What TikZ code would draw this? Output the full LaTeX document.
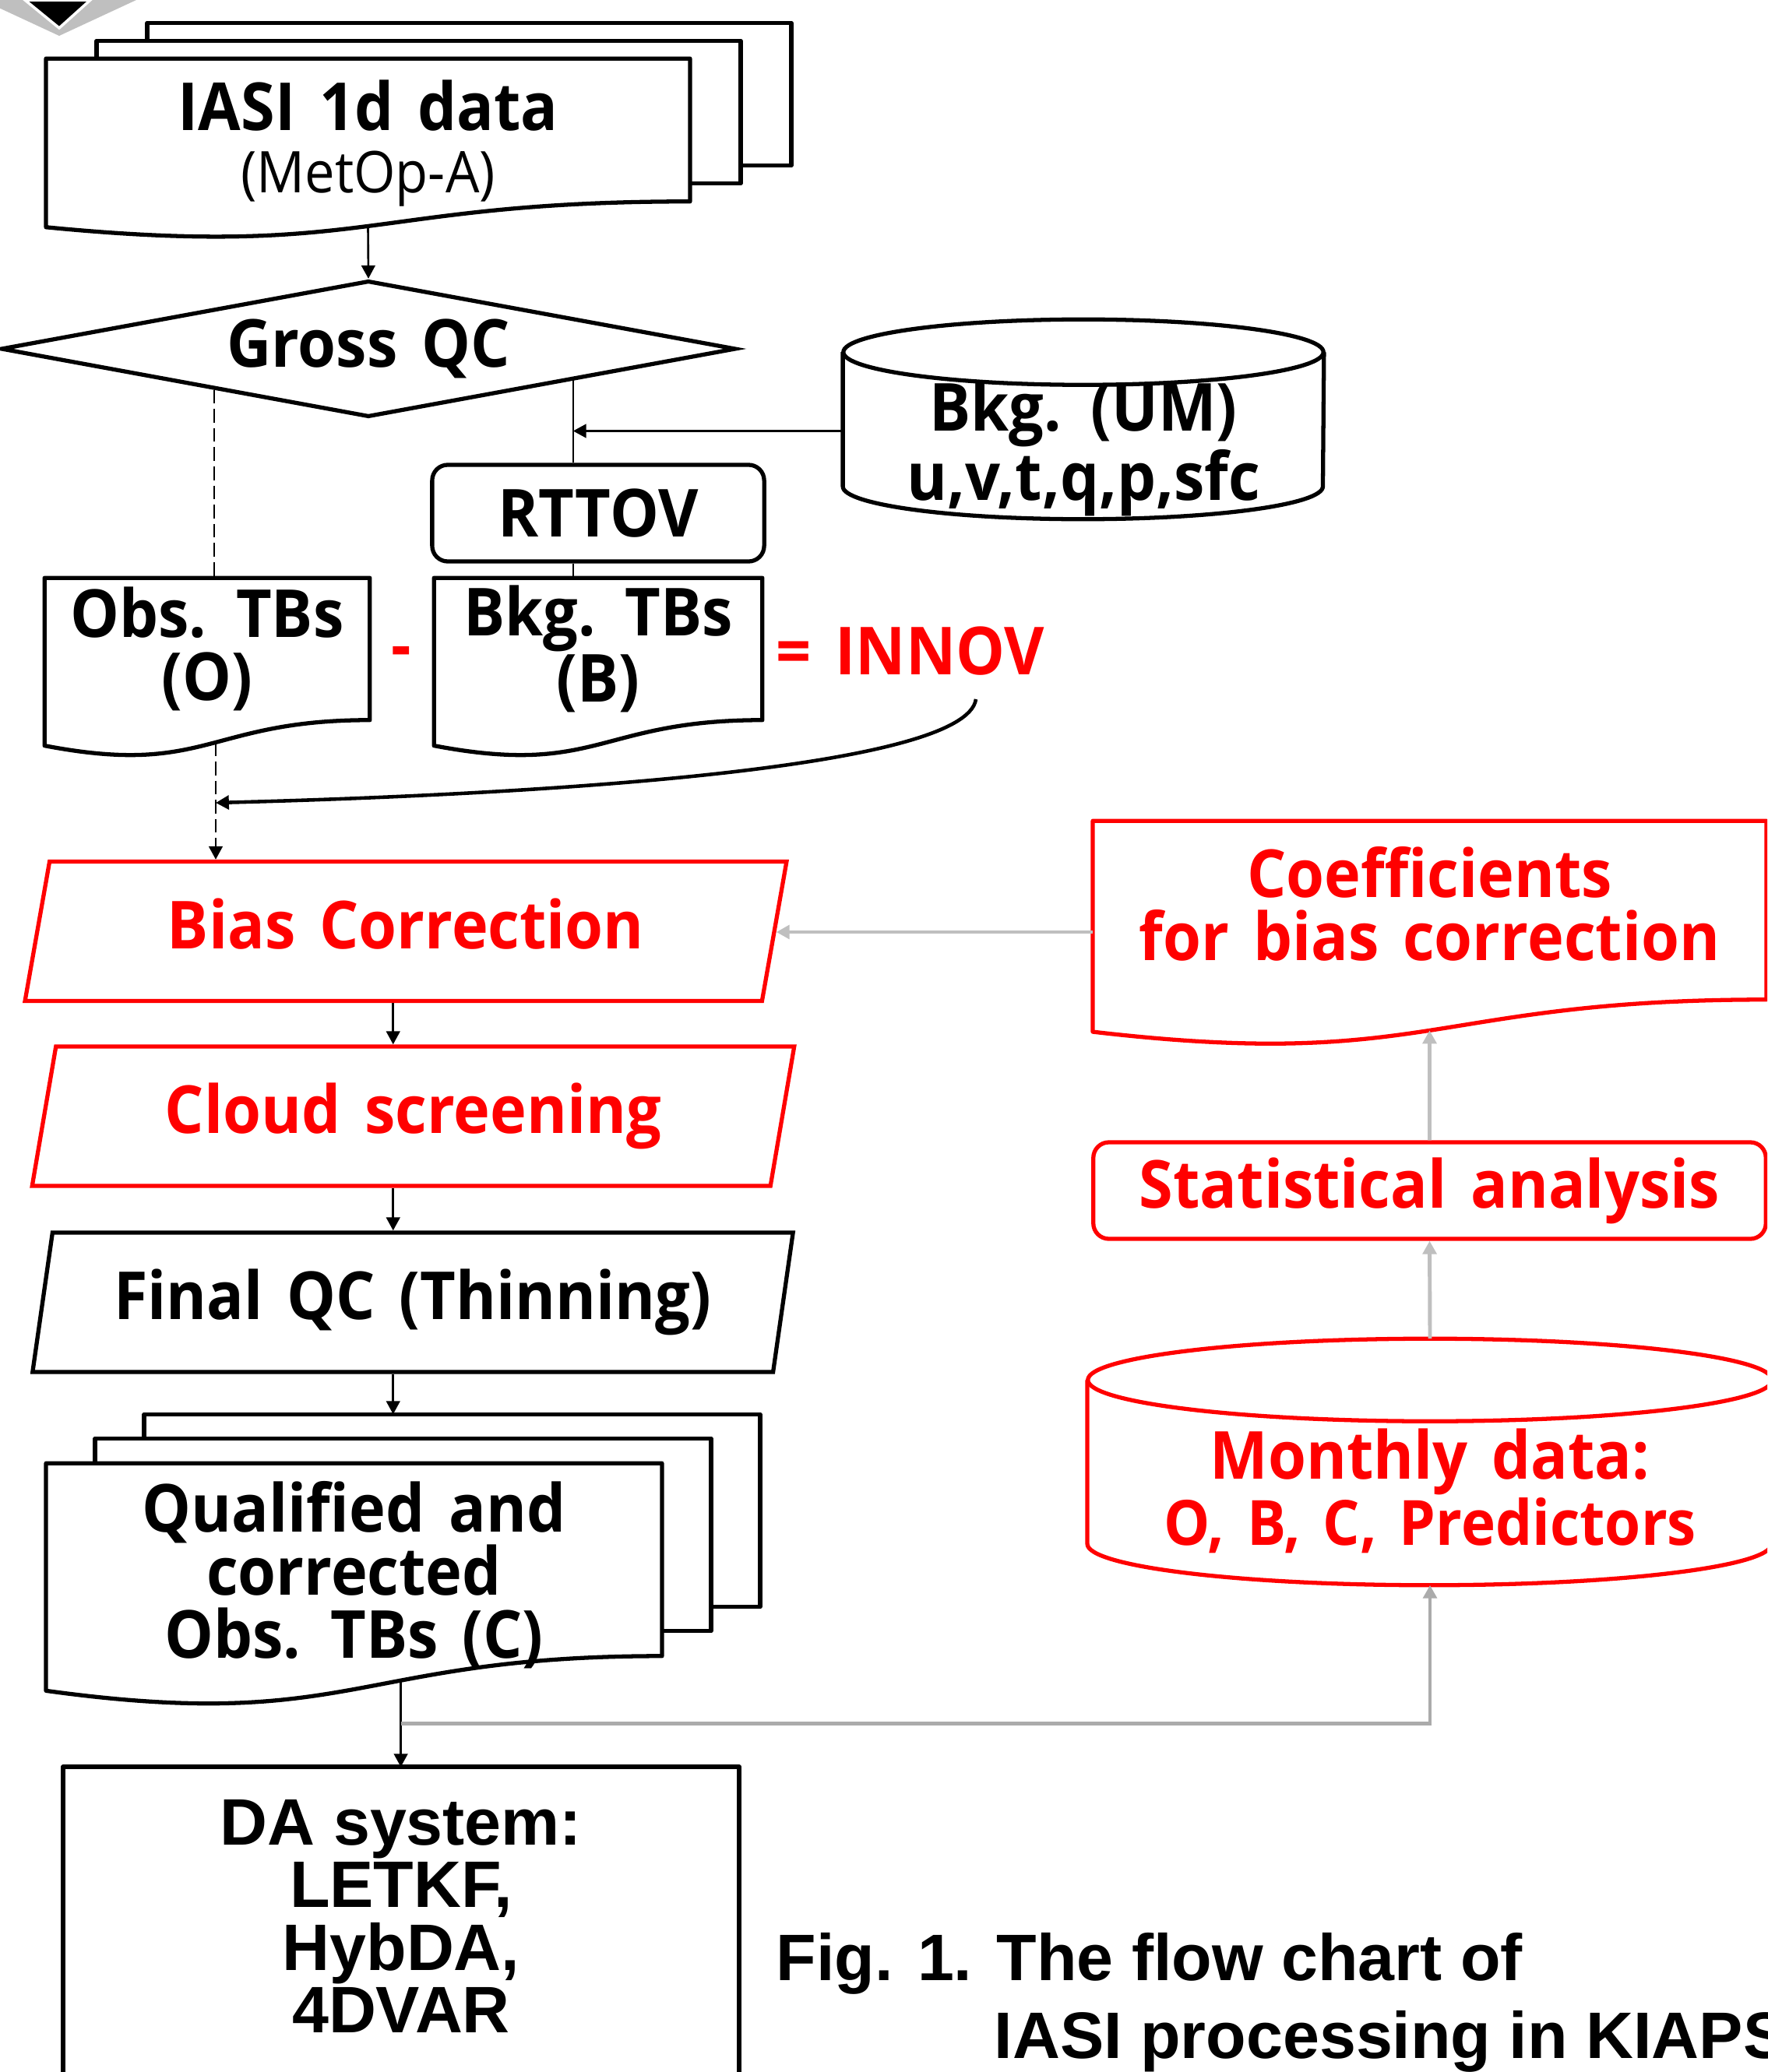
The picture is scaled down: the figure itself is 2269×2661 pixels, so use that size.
\documentclass[tikz,border=0pt]{standalone}
\usepackage{fontspec}
\usepackage{tikz}
\usetikzlibrary{arrows.meta,positioning,calc,shapes.geometric}
\setmainfont{Open Sans}[FakeStretch=0.93,WordSpace=1.5]
\newfontfamily\capfont{Liberation Sans}
\definecolor{Ink}{HTML}{000000}
\definecolor{Alert}{HTML}{FF0000}
\definecolor{Feed}{HTML}{BFBFBF}
\definecolor{FeedDark}{HTML}{ABABAB}
\definecolor{Shade}{HTML}{BFBFBF}
\newcommand{\lblfont}{\bfseries\fontsize{24.2}{23}\selectfont}
\newcommand{\capsize}{\capfont\bfseries\fontsize{24}{22.8}\selectfont}
% one sheet behind a document: node, dx, dy, offset of the sheet in front
\newcommand{\backsheet}[5]{\draw[outline] ($(#1.north west)+(#2,#5)$) -- ($(#1.north west)+(#2,#3)$) -- ($(#1.north east)+(#2,#3)$) -- ($(#1.south east)+(#2,#3)$) -- ($(#1.south east)+(#4,#3)$);}
% document outline with a wavy bottom, (node-out) sits on the wave
\newcommand{\docedge}[3][Ink]{\draw[outline,draw=#1] (#2.north west) -- (#2.north east) -- (#2.south east) .. controls (#2.south) and ($(#2.south)!-0.4!(#2.north)$) .. coordinate[pos=#3] (#2-out) ($(#2.south west)!-0.18!(#2.north west)$) -- cycle;}
% cylinder outline: node, x radius, y radius (cm)
\newcommand{\drumedge}[4][Ink]{%
  \draw[outline,draw=#1] ($(#2.north west)+(0cm,-#4cm)$) -- ($(#2.south west)+(0cm,#4cm)$) arc[start angle=180,end angle=360,x radius=#3cm,y radius=#4cm] -- ($(#2.north east)+(0cm,-#4cm)$);
  \draw[outline,draw=#1] ($(#2.north)+(0cm,-#4cm)$) ellipse[x radius=#3cm,y radius=#4cm];}
\tikzset{
  outline/.style={draw=Ink,line width=1.5pt,line join=round},
  txt/.style={inner sep=0pt,font=\lblfont,align=center},
  docnode/.style={txt,rectangle},
  drum/.style={txt,rectangle},
  decide/.style={txt,diamond,aspect=5.39,draw=Ink,line width=1.5pt,minimum width=9.43cm,minimum height=1.75cm},
  proc/.style={txt,rectangle,rounded corners=0.2cm,draw=Ink,line width=1.5pt},
  slant/.style={txt,trapezium,trapezium left angle=76,trapezium right angle=104,trapezium stretches=true,draw=Ink,line width=1.5pt,minimum width=9.78cm,minimum height=1.79cm},
  arr/.style={-{Triangle[length=4.8pt,width=5pt]},draw=Ink,line width=0.75pt},
  link/.style={draw=Ink,line width=0.75pt},
  dasharr/.style={arr,dash pattern=on 5pt off 2pt},
  grayarr/.style={-{Triangle[length=4.8pt,width=5pt]},draw=Feed,line width=1.4pt}
}
\begin{document}
\begin{tikzpicture}[x=0.01cm,y=-0.01cm]
  \useasboundingbox (0,0) rectangle (2269,2661);
  \clip (0,0) rectangle (2269,2661);
  % corner mark
  \fill[Shade] (-23,0) -- (175,0) -- (76,46) -- cycle;
  \filldraw[fill=Ink,draw=white,line width=1pt] (32,0) -- (116,0) -- (76,36) -- cycle;

  % left column
  \node[docnode,minimum width=8.25cm,minimum height=1.82cm,
    label={[txt,name=iasi-text,yshift=-0.17cm]center:{IASI 1d data\\{\mdseries\fontsize{21}{22}\selectfont (MetOp-A)}}}] (iasi) at (472.5,167) {};
  \backsheet{iasi}{65}{-23}{0}{0}
  \backsheet{iasi}{130}{-46}{65}{-23}
  \docedge{iasi}{0.5}
  \node[decide] (gross) at (473,448) {Gross QC};
  \node[drum,minimum width=6.16cm,minimum height=2.55cm] (bkg) at (1391,538.5) {\rule{0pt}{1.39cm}Bkg. (UM)\\u,v,t,q,p,sfc};
  \drumedge{bkg}{3.08}{0.42}
  \node[proc,minimum width=4.26cm,minimum height=1.24cm] (rttov) at (768,659) {RTTOV};
  \node[docnode,minimum width=4.16cm,minimum height=1.81cm] (obs) at (266,833.5) {Obs. TBs\\(O)};
  \docedge{obs}{0.465}
  \node[docnode,minimum width=4.2cm,minimum height=1.81cm] (bkgtb) at (768,833.5) {Bkg. TBs\\(B)};
  \docedge{bkgtb}{0.5}
  \node[txt,text=Alert] (minus) at (515,844) {-};
  \node[txt,text=Alert] (innov) at (1169,836) {= INNOV};
  \node[slant,draw=Alert,text=Alert,text depth=0.2cm] (bias) at (521,1196) {Bias Correction};
  \node[slant,draw=Alert,text=Alert] (cloud) at (530.5,1433.5) {Cloud screening};
  \node[slant] (final) at (530,1672.5) {Final QC (Thinning)};
  \node[docnode,minimum width=7.89cm,minimum height=2.46cm,
    label={[txt,name=qual-text,yshift=-0.2cm]center:{Qualified and\\corrected\\Obs. TBs (C)}}] (qual) at (454.5,2003) {};
  \backsheet{qual}{63}{-32}{0}{0}
  \backsheet{qual}{126}{-63}{63}{-32}
  \docedge{qual}{0.4}
  \node[txt,font=\capsize,minimum width=8.66cm,minimum height=3.82cm] (da) at (515,2461) {DA system:\\LETKF,\\HybDA,\\4DVAR};
  \draw[outline,line width=1.8pt] ($(da.south west)+(0,100)$) |- (da.north east) -- ($(da.south east)+(0,100)$);

  % right column
  \node[docnode,text=Alert,minimum width=8.63cm,minimum height=2.28cm] (coef) at (1835.5,1169) {Coefficients\\for bias correction\rule[-0.18cm]{0pt}{0.18cm}};
  \docedge[Alert]{coef}{0.5}
  \node[proc,draw=Alert,text=Alert,minimum width=8.63cm,minimum height=1.24cm] (stat) at (1835.5,1529) {Statistical analysis};
  \node[drum,text=Alert,minimum width=8.78cm,minimum height=3.15cm] (monthly) at (1836,1877.5) {\rule{0pt}{1.39cm}Monthly data:\\{\fontsize{22.8}{23}\selectfont O, B, C, Predictors}};
  \drumedge[Alert]{monthly}{4.39}{0.53}

  % caption
  \node[anchor=base west,inner sep=0pt,font=\capsize] (cap1) at (996,2543) {Fig. 1. The flow chart of};
  \node[anchor=base west,inner sep=0pt,font=\capsize] (cap2) at (1276,2643) {IASI processing in KIAPS};

  % connectors
  \draw[arr] (iasi-out) -- (gross.north);
  \coordinate (qcobs) at ($(gross.west)!0.5825!(gross.south)$);
  \coordinate (qcbkg) at ($(gross.east)!0.446!(gross.south)$);
  \draw[link,dash pattern=on 5pt off 2pt] (qcobs) -- (qcobs |- obs.north);
  \draw[dasharr] (obs-out) -- (obs-out |- bias.north);
  \draw[link] (qcbkg) -- (qcbkg |- rttov.north);
  \draw[link] (qcbkg |- rttov.south) -- (qcbkg |- bkgtb.north);
  \coordinate (bkgin) at ($(bkg.west)+(0,15)$);
  \draw[arr] (bkgin) -- (bkgin -| qcbkg);
  \coordinate (innovtail) at ($(innov.south)+(84,30)$);
  \coordinate (innovhead) at (0,1031);
  \draw[arr,line width=1.3pt] (innovtail) .. controls +(-13,89) and +(421,-11) .. (obs-out |- innovhead);
  \coordinate (spine) at ($(bias.bottom left corner)!0.5!(bias.bottom right corner)$);
  \coordinate (qualback) at ($(qual.north)+(126,-63)$);
  \draw[arr] (spine) -- (spine |- cloud.north);
  \draw[arr] (spine |- cloud.south) -- (spine |- final.north);
  \draw[arr] (spine |- final.south) -- (spine |- qualback);
  \draw[arr] (qual-out) -- (qual-out |- da.north);
  \coordinate (tap) at ($(qual-out)+(0,55)$);
  \draw[grayarr,draw=FeedDark] (tap) -| (monthly.south);
  \draw[grayarr] (monthly.north) -- (stat.south);
  \draw[grayarr] (stat.north) -- (coef-out);
  \coordinate (coefin) at ($(coef.west)+(0,28)$);
  \draw[grayarr] (coefin) -- (coefin -| bias.east);
\end{tikzpicture}
\end{document}
